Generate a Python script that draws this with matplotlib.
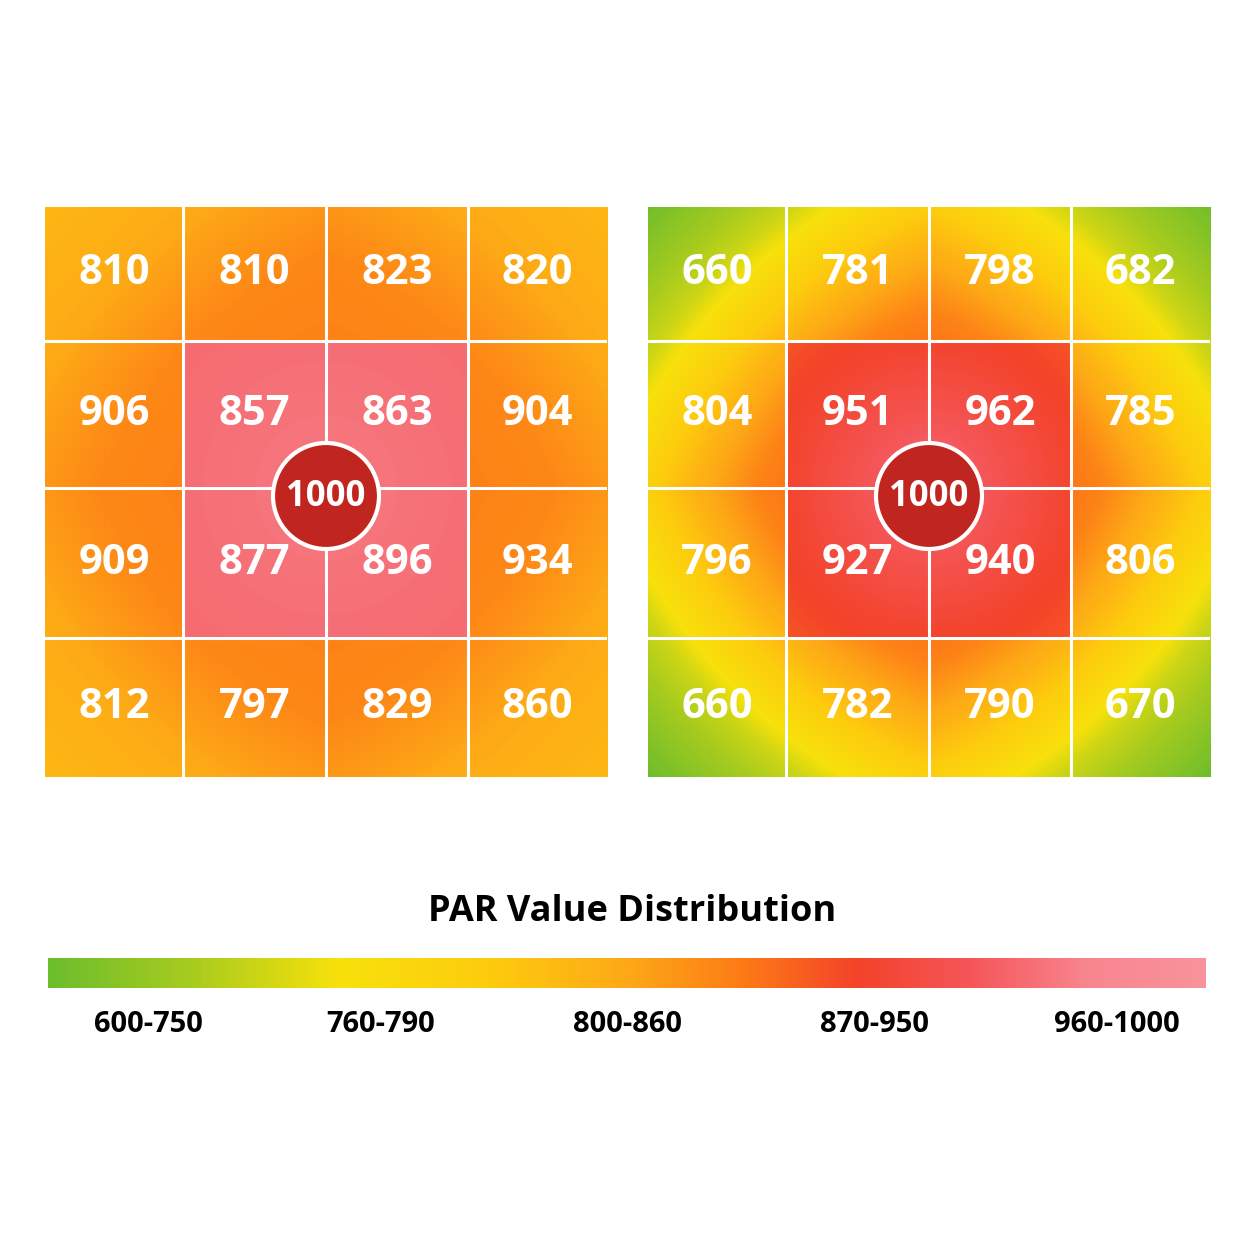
import matplotlib
matplotlib.use("Agg")
import matplotlib.pyplot as plt
import numpy as np
from matplotlib.colors import LinearSegmentedColormap
from matplotlib.patches import Circle

# PAR readings, row by row (top row first)
left_vals = [[810, 810, 823, 820],
             [906, 857, 863, 904],
             [909, 877, 896, 934],
             [812, 797, 829, 860]]
right_vals = [[660, 781, 798, 682],
              [804, 951, 962, 785],
              [796, 927, 940, 806],
              [660, 782, 790, 670]]
center_val = 1000
bands = ["600-750", "760-790", "800-860", "870-950", "960-1000"]
title = "PAR Value Distribution"

plt.rcParams["font.family"] = ["Open Sans", "DejaVu Sans"]

stops = [(0.0, "#6cbd2c"), (0.12, "#a6cb1f"), (0.25, "#f8e10b"), (0.38, "#fdcc0e"),
         (0.5, "#fda916"), (0.6, "#fd7b16"), (0.7, "#f3432a"), (0.8, "#f5575a"),
         (0.9, "#f8868f"), (1.0, "#f8939c")]
cmap = LinearSegmentedColormap.from_list("par", stops)

# grid geometry in pixels (cells are not all the same height)
col_edges = np.array([0, 138, 281, 423, 562])
row_edges = np.array([0, 134, 281, 431, 570])
cx, cy = 281, 281


def shade_field(inner_d, inner_t, outer_d, outer_t):
    xs = np.arange(col_edges[-1]) + 0.5
    ys = np.arange(row_edges[-1]) + 0.5
    xx, yy = np.meshgrid(xs, ys)
    u = (xx - cx) / 141.0
    v = (yy - cy) / 145.0
    col = np.searchsorted(col_edges, xx) - 1
    row = np.searchsorted(row_edges, yy) - 1
    inner = (col >= 1) & (col <= 2) & (row >= 1) & (row <= 2)
    r = np.hypot(u, v)
    d = 0.5 * (np.abs(u) + np.abs(v) + np.sqrt(2) * r)
    return np.where(inner, np.interp(r, inner_d, inner_t), np.interp(d, outer_d, outer_t))


def draw_grid(ax, vals, field):
    W_, H_ = col_edges[-1], row_edges[-1]
    ax.imshow(field, cmap=cmap, vmin=0, vmax=1, extent=[0, W_, H_, 0],
              interpolation="bilinear", aspect="auto")
    for k in range(1, 4):
        ax.axhline(row_edges[k], color="white", lw=2.2)
        ax.axvline(col_edges[k], color="white", lw=2.2)
    for i, row in enumerate(vals):
        yc = (row_edges[i] + row_edges[i + 1]) / 2
        for j, v in enumerate(row):
            xc = (col_edges[j] + col_edges[j + 1]) / 2
            ax.text(xc, yc, str(v), ha="center", va="center",
                    color="white", fontsize=30, fontweight="bold")
    ax.add_patch(Circle((cx, cy + 8), 53, facecolor="#c0261f", edgecolor="white", lw=3, zorder=3))
    ax.text(cx, cy + 9, str(center_val), ha="center", va="center", color="white",
            fontsize=25, fontweight="bold", zorder=4)
    ax.set_xlim(0, W_)
    ax.set_ylim(H_, 0)
    ax.axis("off")


fig = plt.figure(figsize=(12.54, 12.54), dpi=100)
W = 1254.0

ax1 = fig.add_axes([45 / W, 1 - 777 / W, 562 / W, 570 / W])
ax2 = fig.add_axes([648 / W, 1 - 777 / W, 562 / W, 570 / W])

left_field = shade_field([0, 1.42], [0.87, 0.84],
                         [1.0, 2.0, 3.0, 4.0], [0.59, 0.57, 0.49, 0.45])
right_field = shade_field([0, 0.5, 1.0, 1.42], [0.86, 0.78, 0.71, 0.67],
                          [1.0, 1.5, 2.0, 2.5, 3.0, 4.0], [0.63, 0.58, 0.47, 0.33, 0.18, 0.0])
draw_grid(ax1, left_vals, left_field)
draw_grid(ax2, right_vals, right_field)

# colour bar
cax = fig.add_axes([48 / W, 1 - 988 / W, 1158 / W, 30 / W])
cax.imshow(np.linspace(0, 1, 512)[None, :], cmap=cmap, aspect="auto", extent=[0, 1, 0, 1])
cax.axis("off")

fig.text(632 / W, 1 - 912 / W, title, ha="center", va="center",
         fontsize=26, fontweight="bold", color="black")

label_x = [148, 381, 628, 874, 1117]
for x, lab in zip(label_x, bands):
    fig.text(x / W, 1 - 1025 / W, lab, ha="center", va="center",
             fontsize=21, fontweight="bold", color="black")

fig.savefig("out.png", dpi=100, facecolor="white")
